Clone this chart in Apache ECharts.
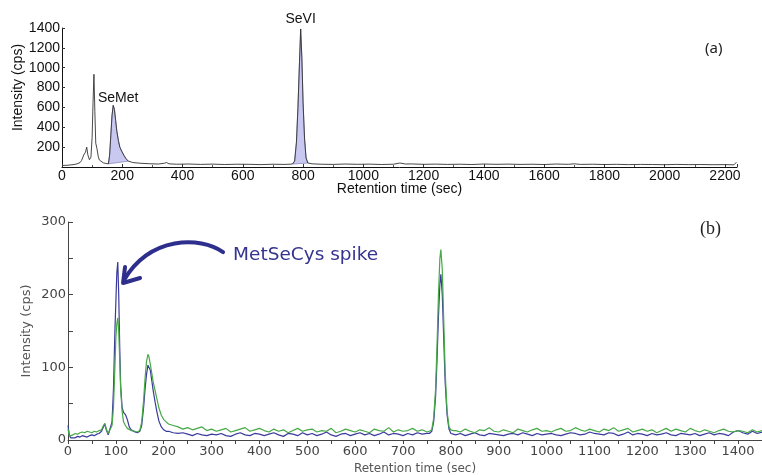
<!DOCTYPE html>
<html><head><meta charset="utf-8">
<script src="https://cdn.jsdelivr.net/npm/echarts@6/dist/echarts.min.js"></script>
<style>html,body{margin:0;padding:0;background:#fff}#c{width:762px;height:475px}</style>
</head><body><div id="c"></div>
<script>
// ---------- Panel (a) ----------
const topTime = [
  0,20,40,50,60,65,72,78,82,86,
  91,96,100,103,106,109,112,116,120,124,
  130,137,145,154,158,162,166,170,174,178,
  182,187,192,198,205,212,220,235,259,290,
  320,340,347,355,380,420,460,500,540,580,
  620,660,700,740,765,772,778,783,788,792,
  796,800,805,810,816,830,860,900,940,980,
  1020,1060,1100,1121,1140,1160,1200,1240,1280,1320,
  1360,1400,1440,1480,1520,1560,1600,1640,1680,1700,
  1720,1760,1800,1840,1880,1920,1960,2000,2040,2080,
  2120,2160,2200,2230,2238
];
const topIntensity = [
  15,18,25,32,45,66,120,150,200,120,
  73,99,300,650,934,560,240,185,110,70,
  55,42,36,32,120,320,520,621,580,470,
  360,268,200,160,120,85,59,45,38,33,
  30,38,45,32,28,30,26,29,25,28,
  27,24,28,26,30,60,250,600,1050,1390,
  1100,650,280,90,40,32,28,26,30,27,
  29,25,28,40,30,31,27,29,26,28,
  25,30,27,29,26,28,25,30,27,32,
  26,28,25,27,24,26,25,23,26,24,
  25,23,24,22,48
];
const semetRange = [154, 220];
const seviRange = [765, 816];
const peakNames = ['SeMet', 'SeVI'];
const peakTimes = [170, 792];
const peakHeights = [621, 1390];

// ---------- Panel (b) ----------
const botTime = [
  0,3,6,10,15,20,25,30,35,40,
  45,50,55,60,65,70,74,77,80,84,
  88,92,95,98,100,102,104,106,108,110,
  113,116,120,124,128,132,136,140,145,150,
  154,158,161,164,167,169,172,175,178,182,
  186,190,195,200,205,
  210,220,230,240,250,260,270,280,290,300,
  310,320,330,340,350,360,370,380,390,400,
  410,420,430,440,450,460,470,480,490,500,
  510,520,530,540,550,560,570,580,590,600,
  610,620,630,640,650,660,670,680,690,700,
  710,720,730,740,750,
  755,760,764,768,771,774,777,779,782,785,788,792,796,800,805,
  810,820,830,840,850,860,870,880,890,900,
  910,920,930,940,950,960,970,980,990,1000,
  1010,1020,1030,1040,1050,1060,1070,1080,1090,1100,
  1110,1120,1130,1140,1150,1160,1170,1180,1190,1200,
  1210,1220,1230,1240,1250,1260,1270,1280,1290,1300,
  1310,1320,1330,1340,1350,1360,1370,1380,1390,1400,
  1410,1420,1430,1440,1450
];
const blueIntensity = [
  20,6,3,4,3,5,4,6,5,4,
  6,7,6,8,9,12,18,22,14,7,
  8,25,70,150,190,230,245,200,130,75,
  45,38,35,28,18,14,12,11,10,12,
  20,45,70,90,103,105,96,82,68,52,
  38,26,18,14,12,
  12,10,9,10,8,6,9,7,6,8,
  7,9,6,5,8,10,7,6,9,8,
  6,8,10,7,5,9,8,6,10,7,
  9,6,8,11,7,5,8,9,6,8,
  10,7,9,6,8,11,7,9,8,6,
  9,7,10,8,9,
  9,12,25,60,110,170,215,228,200,140,80,35,15,9,8,
  7,9,6,8,10,7,6,9,8,7,
  6,8,9,7,10,8,6,9,7,8,
  9,7,6,8,10,9,7,8,11,9,
  8,7,10,9,6,8,11,7,9,8,
  6,9,7,8,10,7,6,9,8,7,
  9,6,8,10,7,9,8,6,11,13,
  10,8,12,9,11
];
const greenIntensity = [
  15,5,6,7,9,8,10,11,10,12,
  11,10,12,11,13,14,20,23,15,9,
  10,20,45,100,140,160,168,150,110,70,
  40,25,20,16,14,13,12,12,11,13,
  25,55,85,108,118,115,104,92,80,68,
  56,44,34,28,25,
  22,20,18,15,17,14,16,18,13,15,
  12,14,16,11,13,15,17,12,14,16,
  13,11,15,12,14,10,13,16,12,14,
  15,11,13,12,16,10,12,15,13,11,
  14,12,10,15,13,12,17,11,14,12,
  13,16,12,14,11,
  12,14,30,70,130,200,250,262,235,165,95,40,18,14,13,
  13,11,15,12,10,14,13,17,12,11,
  14,12,10,15,13,11,14,16,12,13,
  11,14,16,12,13,17,14,12,15,13,
  11,15,13,17,12,14,16,11,13,15,
  12,14,10,13,16,12,15,13,11,16,
  13,11,14,12,10,13,15,12,11,13,
  12,10,14,11,13
];
const spikeTip = [115, 216];

const zip = (t, v) => t.map((x, i) => [x, v[i]]);
const topData = zip(topTime, topIntensity);
const blueData = zip(botTime, blueIntensity);
const greenData = zip(botTime, greenIntensity);
const plain = v => String(v);

function fillSeries(range) {
  return {
    type: 'custom', xAxisIndex: 0, yAxisIndex: 0, z: 1, silent: true,
    data: [[range[0], 0]],
    renderItem: function (params, api) {
      const pts = topData.filter(p => p[0] >= range[0] && p[0] <= range[1]).map(p => api.coord(p));
      return { type: 'polygon', shape: { points: pts },
        style: { fill: '#c8c8f0', stroke: '#8a8ac4', lineWidth: 0.8 } };
    }
  };
}

const SANS = 'Liberation Sans, Arial, sans-serif';
const VER = 'DejaVu Sans, Verdana, sans-serif';

const chart = echarts.init(document.getElementById('c'), null, { renderer: 'canvas' });
chart.setOption({
  animation: false,
  backgroundColor: '#fff',
  grid: [
    { left: 62, right: 25, top: 28, bottom: 308, containLabel: false, outerBoundsMode: 'none' },
    { left: 68, right: 0, top: 222, bottom: 35, containLabel: false, outerBoundsMode: 'none' }
  ],
  xAxis: [
    { type: 'value', gridIndex: 0, min: 0, max: 2240, interval: 200,
      axisLine: { lineStyle: { color: '#111', width: 1 } },
      axisTick: { show: true, inside: true, length: 3, lineStyle: { color: '#333' } },
      minorTick: { show: true, splitNumber: 2, length: 2, lineStyle: { color: '#555' } },
      splitLine: { show: false },
      axisLabel: { fontFamily: SANS, fontSize: 14, color: '#111', margin: 2, showMaxLabel: false, formatter: plain },
      name: 'Retention time (sec)', nameLocation: 'middle', nameGap: 15, nameMoveOverlap: false,
      nameTextStyle: { fontFamily: SANS, fontSize: 14, color: '#111' } },
    { type: 'value', gridIndex: 1, min: 0, max: 1450, interval: 100,
      axisLine: { lineStyle: { color: '#444', width: 1 } },
      axisTick: { show: true, length: 4, lineStyle: { color: '#444' } },
      minorTick: { show: true, splitNumber: 2, length: 4, lineStyle: { color: '#444' } },
      splitLine: { show: false },
      axisLabel: { fontFamily: VER, fontSize: 13, color: '#444', margin: 5, showMaxLabel: false, formatter: plain },
      name: 'Retention time (sec)', nameLocation: 'middle', nameGap: 23, nameMoveOverlap: false,
      nameTextStyle: { fontFamily: VER, fontSize: 12, color: '#555' } }
  ],
  yAxis: [
    { type: 'value', gridIndex: 0, min: 0, max: 1400, interval: 200,
      axisLine: { show: true, lineStyle: { color: '#111', width: 1 } },
      axisTick: { show: true, inside: true, length: 3, lineStyle: { color: '#333' } },
      splitLine: { show: false },
      axisLabel: { fontFamily: SANS, fontSize: 14, color: '#111', margin: 2, showMinLabel: false, formatter: plain },
      name: 'Intensity (cps)', nameLocation: 'middle', nameGap: 37, nameMoveOverlap: false,
      nameTextStyle: { fontFamily: SANS, fontSize: 14, color: '#111', padding: [0, 0, 0, 20] } },
    { type: 'value', gridIndex: 1, min: 0, max: 300, interval: 100,
      axisLine: { show: true, lineStyle: { color: '#444', width: 1 } },
      axisTick: { show: true, inside: true, length: 5, lineStyle: { color: '#444' } },
      minorTick: { show: true, splitNumber: 2, length: 5, lineStyle: { color: '#444' } },
      splitLine: { show: false },
      axisLabel: { fontFamily: VER, fontSize: 13, color: '#444', margin: 2, formatter: plain },
      name: 'Intensity (cps)', nameLocation: 'middle', nameGap: 35, nameMoveOverlap: false,
      nameTextStyle: { fontFamily: VER, fontSize: 13, color: '#555' } }
  ],
  series: [
    fillSeries(semetRange),
    fillSeries(seviRange),
    { type: 'line', xAxisIndex: 0, yAxisIndex: 0, z: 3, data: topData,
      showSymbol: false, symbol: 'none',
      lineStyle: { color: '#333', width: 0.9 },
      markPoint: {
        symbol: 'circle', symbolSize: 0.01, silent: true,
        label: { show: true, formatter: '{b}', position: 'top', fontFamily: SANS, fontSize: 14, color: '#111' },
        data: peakNames.map((n, i) => ({ name: n, coord: [peakTimes[i], peakHeights[i]],
          label: i === 0 ? { distance: 0, offset: [5, 0] } : { distance: 3 } }))
      } },
    { type: 'line', xAxisIndex: 1, yAxisIndex: 1, z: 3, data: blueData,
      showSymbol: false, symbol: 'none', lineStyle: { color: '#3a3a9c', width: 1.2 } },
    { type: 'line', xAxisIndex: 1, yAxisIndex: 1, z: 4, data: greenData,
      showSymbol: false, symbol: 'none', lineStyle: { color: '#46a846', width: 1.2 } }
  ]
});

const tip = chart.convertToPixel({ xAxisIndex: 1, yAxisIndex: 1 }, spikeTip);
const tx = tip[0], ty = tip[1];
chart.setOption({
  graphic: [
    { type: 'text', left: 705, top: 41, style: { text: '(a)', fontFamily: 'Noto Sans, sans-serif', fontSize: 15, fill: '#222' } },
    { type: 'text', left: 700, top: 220, style: { text: '(b)', fontFamily: 'Liberation Serif, serif', fontSize: 18, fill: '#222' } },
    { type: 'text', x: tx + 110, y: ty - 28, style: { text: 'MetSeCys spike', fontFamily: VER, fontSize: 18.5, fill: '#34348f', verticalAlign: 'middle' } },
    { type: 'bezierCurve', shape: { x1: tx + 100, y1: ty - 31, cpx1: tx + 77, cpy1: ty - 47, cpx2: tx + 27, cpy2: ty - 47, x2: tx + 1, y2: ty - 3 },
      style: { stroke: '#2e2e8c', lineWidth: 4, fill: null, lineCap: 'round' } },
    { type: 'polyline', shape: { points: [[tx + 2, ty - 16], [tx, ty], [tx + 17, ty - 5]] },
      style: { stroke: '#2e2e8c', lineWidth: 4, fill: null, lineCap: 'round', lineJoin: 'round' } }
  ]
});
</script>
</body></html>
